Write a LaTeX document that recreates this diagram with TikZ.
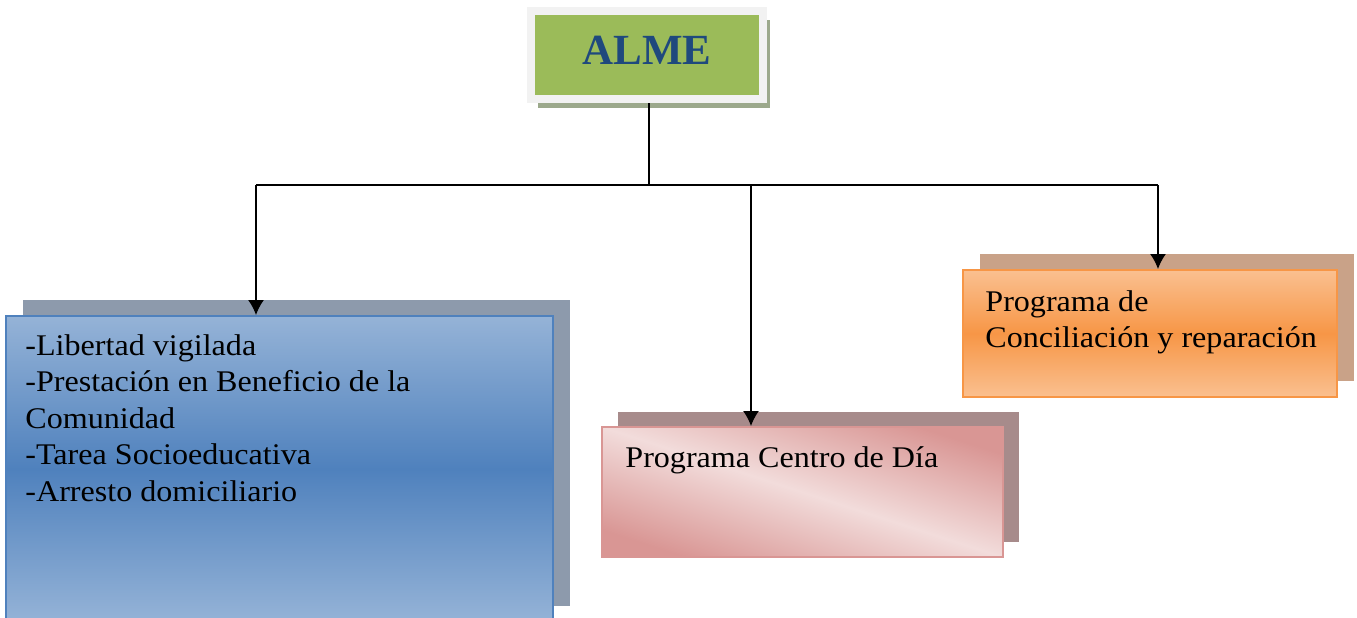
\documentclass[tikz,border=0pt]{standalone}
\usepackage{fontspec}
\setmainfont{Liberation Serif}
\newfontfamily\boxfont{Liberation Serif}[FakeStretch=1.07]
\usetikzlibrary{shadows, arrows.meta}

\definecolor{almegreen}{HTML}{9BBB59}
\definecolor{almeblue}{HTML}{1F497D}
\definecolor{almeframe}{HTML}{F2F2F2}
\definecolor{almeshade}{HTML}{9CA98C}
\definecolor{blueedge}{HTML}{4F81BD}
\definecolor{bluelight}{HTML}{95B3D7}
\definecolor{bluedark}{HTML}{4F81BD}
\definecolor{blueshade}{HTML}{8D9AAC}
\definecolor{pinkedge}{HTML}{D99694}
\definecolor{pinkdark}{HTML}{D99694}
\definecolor{pinklight}{HTML}{F2DCDB}
\definecolor{pinkshade}{HTML}{A78B8B}
\definecolor{orangeedge}{HTML}{F79646}
\definecolor{orangelight}{HTML}{FAC090}
\definecolor{orangedark}{HTML}{F79646}
\definecolor{orangeshade}{HTML}{C9A288}

\tikzset{
  almebox/.style={rectangle, fill=almegreen, draw=almeframe, line width=4pt,
    minimum width=116pt, minimum height=44pt, text depth=5pt,
    text=almeblue, font=\bfseries\fontsize{21.5}{25}\selectfont,
    general shadow={fill=almeshade, shadow xshift=3.5pt, shadow yshift=-4.5pt}},
  prog/.style={rectangle, line width=1pt, inner sep=0pt},
  progtext/.style={anchor=base west, align=left, inner sep=0pt,
    font=\boxfont\fontsize{15}{18.25}\selectfont},
  link/.style={line width=0.75pt},
  arrow/.style={link, -{Latex[length=7.5pt,width=8pt]}},
}

\begin{document}
\begin{tikzpicture}[x=0.5pt,y=-0.5pt]
\useasboundingbox (0,0) rectangle (1357,617);

\node[almebox] (alme) at (647,55) {ALME};%la caja de arriba

\node[prog, draw=blueedge, top color=bluelight, bottom color=bluelight, middle color=bluedark,
  minimum width=273.5pt, minimum height=153pt,
  general shadow={fill=blueshade, shadow xshift=8.5pt, shadow yshift=8pt}] (libertad) at (279.5,469) {};
\node[prog, draw=pinkedge, top color=pinkdark, bottom color=pinkdark, middle color=pinklight, shading angle=-18,
  minimum width=200.5pt, minimum height=65pt,
  general shadow={fill=pinkshade, shadow xshift=8pt, shadow yshift=7.5pt}] (centro) at (802.5,492) {};
\node[prog, draw=orangeedge, top color=orangelight, bottom color=orangelight, middle color=orangedark,
  minimum width=187pt, minimum height=63.5pt,
  general shadow={fill=orangeshade, shadow xshift=8.5pt, shadow yshift=8pt}] (conciliacion) at (1150,333.5) {};

%textos (base de la ultima linea)
\node[progtext] (libertadtext) at (25,501) {-Libertad vigilada\\-Prestación en Beneficio de la\\Comunidad\\-Tarea Socioeducativa\\-Arresto domiciliario};
\node[progtext] (centrotext) at (625,467) {Programa Centro de Día};
\node[progtext] (conciliaciontext) at (985,347.5) {Programa de\\Conciliación y reparación};

%les liens
\coordinate (bus) at (649,185);
\coordinate (busL) at (256,185);
\coordinate (busM) at (751,185);
\coordinate (busR) at (1158,185);

\draw[link] (alme.south -| bus) -- (bus);
\draw[link] (busL) -- (busR);
\draw[arrow] (busL) -- (busL |- libertad.north);
\draw[arrow] (busM) -- (busM |- centro.north);
\draw[arrow] (busR) -- (busR |- conciliacion.north);
\end{tikzpicture}
\end{document}
